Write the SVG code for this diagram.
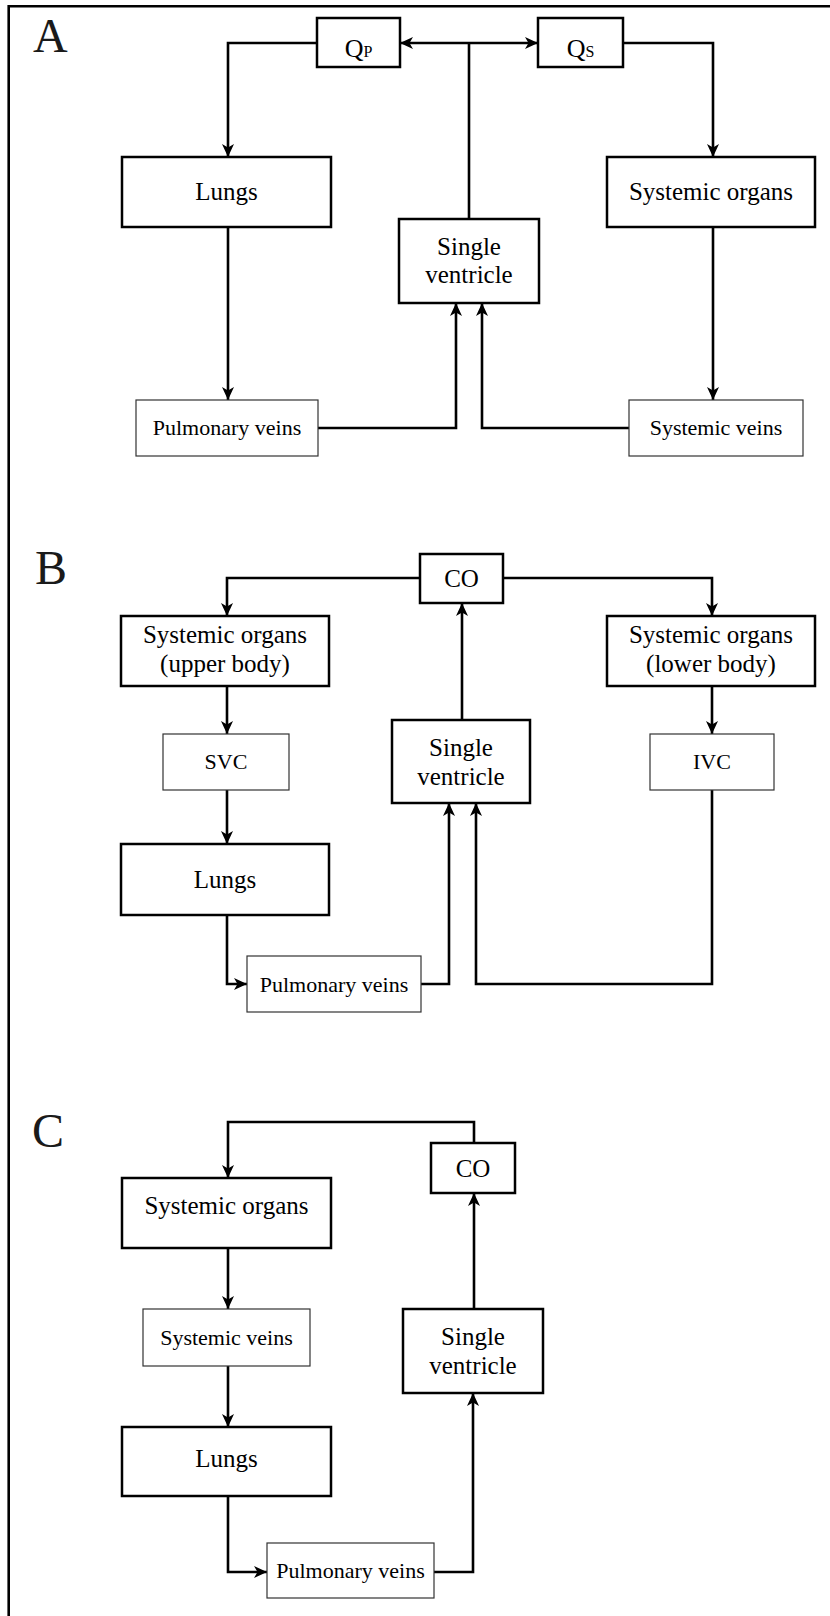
<svg xmlns="http://www.w3.org/2000/svg" width="830" height="1616" viewBox="0 0 830 1616">
<style>
text{font-family:"Liberation Serif","Times New Roman",serif;fill:#000;text-anchor:middle}
.big{font-size:25px}
.sm{font-size:22px}
.panel{font-size:48px;text-anchor:start;fill:#1a1a1a}
.bx{fill:#fff;stroke:#000;stroke-width:2.5}
.tb{fill:#fff;stroke:#333;stroke-width:1.2}
.c{fill:none;stroke:#000;stroke-width:2.6}
.a{marker-end:url(#ah)}
</style>
<defs>
<marker id="ah" markerUnits="userSpaceOnUse" markerWidth="13" markerHeight="12" viewBox="0 0 13 12" refX="13" refY="6" orient="auto">
<path d="M0,0 L13,6 L0,12 L3.5,6 z" fill="#000"/>
</marker>
</defs>
<rect x="0" y="0" width="830" height="1616" fill="#fff"/>
<path d="M8.7,1616 V6.2 H830" fill="none" stroke="#000" stroke-width="2.6"/>
<text class="panel" x="33" y="52">A</text>
<text class="panel" x="35" y="584">B</text>
<text class="panel" x="32" y="1147">C</text>
<g id="connectors">
<!-- Panel A -->
<path class="c" d="M469,219 V43"/>
<path class="c a" d="M469,43 H400"/>
<path class="c a" d="M469,43 H538"/>
<path class="c a" d="M317,43 H228 V157"/>
<path class="c a" d="M623,43 H713 V157"/>
<path class="c a" d="M228,227 V400"/>
<path class="c a" d="M713,227 V400"/>
<path class="c a" d="M318,428 H456 V303"/>
<path class="c a" d="M629,428 H482 V303"/>
<!-- Panel B -->
<path class="c a" d="M420,578 H227 V616"/>
<path class="c a" d="M503,578 H712 V616"/>
<path class="c a" d="M462,720 V603"/>
<path class="c a" d="M227,686 V734"/>
<path class="c a" d="M712,686 V734"/>
<path class="c a" d="M227,790 V844"/>
<path class="c a" d="M227,915 V984 H247"/>
<path class="c a" d="M421,984 H449 V803"/>
<path class="c a" d="M712,790 V984 H476 V803"/>
<!-- Panel C -->
<path class="c a" d="M474,1143 V1122 H228 V1178"/>
<path class="c a" d="M474,1309 V1193"/>
<path class="c a" d="M228,1248 V1309"/>
<path class="c a" d="M228,1366 V1427"/>
<path class="c a" d="M228,1496 V1572 H267"/>
<path class="c a" d="M434,1572 H473 V1393"/>
</g>
<!-- Panel A nodes -->
<g id="a-qp"><rect class="bx" x="317" y="18" width="83" height="49" stroke-width="2"/><text x="358.5" y="57" style="font-size:26px">Q<tspan style="font-size:16px">P</tspan></text></g>
<g id="a-qs"><rect class="bx" x="538" y="18" width="85" height="49" stroke-width="2"/><text x="580.5" y="57" style="font-size:26px">Q<tspan style="font-size:16px">S</tspan></text></g>
<g id="a-lungs"><rect class="bx" x="122" y="157" width="209" height="70"/><text class="big" x="226.5" y="200">Lungs</text></g>
<g id="a-sysorg"><rect class="bx" x="607" y="157" width="208" height="70"/><text class="big" x="711" y="200">Systemic organs</text></g>
<g id="a-sv"><rect class="bx" x="399" y="219" width="140" height="84"/><text class="big" x="469" y="255">Single</text><text class="big" x="469" y="283">ventricle</text></g>
<g id="a-pv"><rect class="tb" x="136" y="400" width="182" height="56"/><text class="sm" x="227" y="435">Pulmonary veins</text></g>
<g id="a-sysv"><rect class="tb" x="629" y="400" width="174" height="56"/><text class="sm" x="716" y="435">Systemic veins</text></g>
<!-- Panel B nodes -->
<g id="b-co"><rect class="bx" x="420" y="554" width="83" height="49" stroke-width="2"/><text class="big" x="461.5" y="587">CO</text></g>
<g id="b-sou"><rect class="bx" x="121" y="616" width="208" height="70"/><text class="big" x="225" y="643">Systemic organs</text><text class="big" x="225" y="672">(upper body)</text></g>
<g id="b-sol"><rect class="bx" x="607" y="616" width="208" height="70"/><text class="big" x="711" y="643">Systemic organs</text><text class="big" x="711" y="672">(lower body)</text></g>
<g id="b-svc"><rect class="tb" x="163" y="734" width="126" height="56"/><text class="sm" x="226" y="769">SVC</text></g>
<g id="b-ivc"><rect class="tb" x="650" y="734" width="124" height="56"/><text class="sm" x="712" y="769">IVC</text></g>
<g id="b-sv"><rect class="bx" x="392" y="720" width="138" height="83"/><text class="big" x="461" y="756">Single</text><text class="big" x="461" y="785">ventricle</text></g>
<g id="b-lungs"><rect class="bx" x="121" y="844" width="208" height="71"/><text class="big" x="225" y="888">Lungs</text></g>
<g id="b-pv"><rect class="tb" x="247" y="956" width="174" height="56"/><text class="sm" x="334" y="992">Pulmonary veins</text></g>
<!-- Panel C nodes -->
<g id="c-co"><rect class="bx" x="431" y="1143" width="84" height="50" stroke-width="2"/><text class="big" x="473" y="1177">CO</text></g>
<g id="c-sysorg"><rect class="bx" x="122" y="1178" width="209" height="70"/><text class="big" x="226.5" y="1214">Systemic organs</text></g>
<g id="c-sysv"><rect class="tb" x="143" y="1309" width="167" height="57"/><text class="sm" x="226.5" y="1345">Systemic veins</text></g>
<g id="c-sv"><rect class="bx" x="403" y="1309" width="140" height="84"/><text class="big" x="473" y="1345">Single</text><text class="big" x="473" y="1374">ventricle</text></g>
<g id="c-lungs"><rect class="bx" x="122" y="1427" width="209" height="69"/><text class="big" x="226.5" y="1467">Lungs</text></g>
<g id="c-pv"><rect class="tb" x="267" y="1543" width="167" height="55"/><text class="sm" x="350.5" y="1578">Pulmonary veins</text></g>
</svg>
